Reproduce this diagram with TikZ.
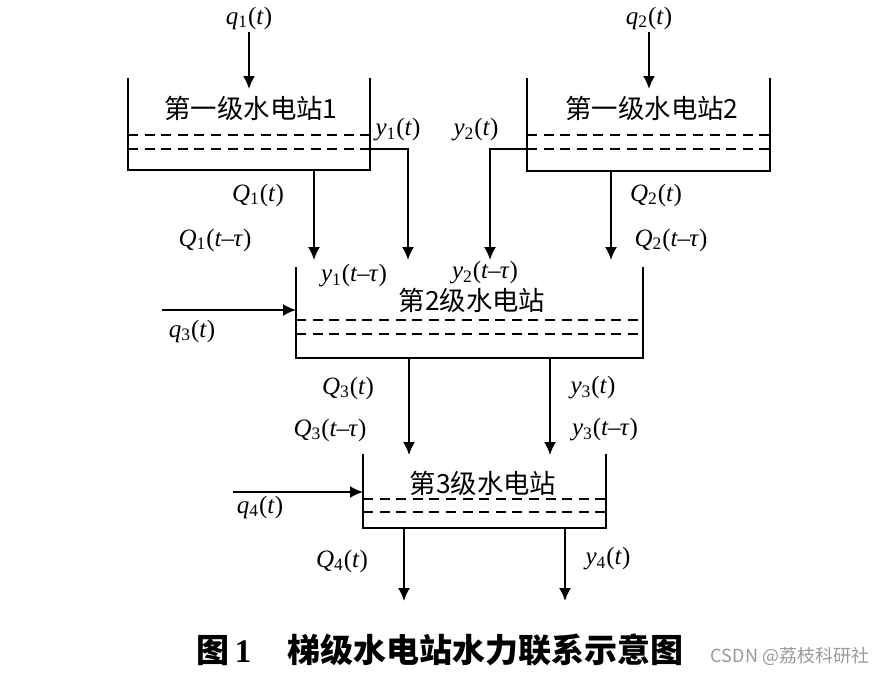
\documentclass[tikz,border=0pt]{standalone}
\usepackage{fontspec}
\setmainfont{Liberation Serif}
\newfontfamily\cjk{Noto Sans CJK SC}
\usetikzlibrary{arrows.meta}

\newcommand{\sigt}[2]{\textit{#1}\textsubscript{#2}(\textit{t})}
\newcommand{\sigd}[2]{\textit{#1}\textsubscript{#2}(\textit{t}\kern-0.3pt--\kern-0.3pt\textit{τ})}

\begin{document}
\begin{tikzpicture}[x=0.5pt, y=-0.5pt,
        wall/.style={line width=0.9pt},
        level/.style={line width=0.75pt, dash pattern=on 5pt off 3.3pt},
        flow/.style={line width=0.9pt, -{Latex[length=6.5pt, width=6pt]}},
        lbl/.style={font=\fontsize{12.5}{14}\selectfont, inner sep=1pt},
        stname/.style={font=\cjk\fontsize{13.2}{15}\selectfont, inner sep=1pt},
    ]
    \useasboundingbox (0,0) rectangle (892,676);

    % tanks
    \draw[wall] (128,78) |- (370,170) -- (370,78);
    \draw[level] (128,135) -- (370,135);
    \draw[level] (128,149) -- (370,149);
    \draw[wall] (527,78) |- (770,171) -- (770,78);
    \draw[level] (527,135) -- (770,135);
    \draw[level] (527,149) -- (770,149);
    \draw[wall] (296,267) |- (643,358) -- (643,267);
    \draw[level] (296,320) -- (643,320);
    \draw[level] (296,334) -- (643,334);
    \draw[wall] (363,454) |- (606,528) -- (606,454);
    \draw[level] (363,499) -- (606,499);
    \draw[level] (363,512) -- (606,512);

    % station names
    \node[stname] (st1) at (251,108) {第一级水电站1};
    \node[stname] (st2) at (652,108) {第一级水电站2};
    \node[stname] (st3) at (472,300) {第2级水电站};
    \node[stname] (st4) at (483,483) {第3级水电站};

    % labels
    \node[lbl] (q1)   at (249,18)  {\sigt{q}{1}};
    \node[lbl] (q2)   at (649,18)  {\sigt{q}{2}};
    \node[lbl] (y1)   at (398,130) {\sigt{y}{1}};
    \node[lbl] (y2)   at (476,130) {\sigt{y}{2}};
    \node[lbl] (Q1)   at (258,195) {\sigt{Q}{1}};
    \node[lbl] (Q1d)  at (215,240) {\sigd{Q}{1}};
    \node[lbl] (Q2)   at (656,195) {\sigt{Q}{2}};
    \node[lbl] (Q2d)  at (671,240) {\sigd{Q}{2}};
    \node[lbl] (y1d)  at (354,276) {\sigd{y}{1}};
    \node[lbl] (y2d)  at (485,273) {\sigd{y}{2}};
    \node[lbl] (q3)   at (192,331) {\sigt{q}{3}};
    \node[lbl] (Q3)   at (348,388) {\sigt{Q}{3}};
    \node[lbl] (Q3d)  at (330,430) {\sigd{Q}{3}};
    \node[lbl] (y3)   at (593,388) {\sigt{y}{3}};
    \node[lbl] (y3d)  at (605,430) {\sigd{y}{3}};
    \node[lbl] (q4)   at (260,507) {\sigt{q}{4}};
    \node[lbl] (Q4)   at (342,561) {\sigt{Q}{4}};
    \node[lbl] (y4)   at (608,559) {\sigt{y}{4}};

    % connector ends
    \coordinate (q1in)   at (249,89);
    \coordinate (q2in)   at (649,89);
    \coordinate (y1out)  at (370,149);
    \coordinate (y1bend) at (408,149);
    \coordinate (y1in)   at (408,260);
    \coordinate (y2out)  at (527,149);
    \coordinate (y2bend) at (490,149);
    \coordinate (y2in)   at (490,260);
    \coordinate (Q1out)  at (314,170);
    \coordinate (Q1in)   at (314,260);
    \coordinate (Q2out)  at (611,171);
    \coordinate (Q2in)   at (611,260);
    \coordinate (q3from) at (162,310);
    \coordinate (q3in)   at (296,310);
    \coordinate (Q3out)  at (409,358);
    \coordinate (Q3in)   at (409,455);
    \coordinate (y3out)  at (550,358);
    \coordinate (y3in)   at (550,455);
    \coordinate (q4from) at (233,492);
    \coordinate (q4in)   at (363,492);
    \coordinate (Q4out)  at (404,528);
    \coordinate (Q4end)  at (404,601);
    \coordinate (y4out)  at (565,528);
    \coordinate (y4end)  at (565,601);

    % flows
    \draw[flow] (q1) -- (q1in);
    \draw[flow] (q2) -- (q2in);
    \draw[flow] (Q1out) -- (Q1in);
    \draw[flow] (y1out) -- (y1bend) -- (y1in);
    \draw[flow] (y2out) -- (y2bend) -- (y2in);
    \draw[flow] (Q2out) -- (Q2in);
    \draw[flow] (q3from) -- (q3in);
    \draw[flow] (Q3out) -- (Q3in);
    \draw[flow] (y3out) -- (y3in);
    \draw[flow] (q4from) -- (q4in);
    \draw[flow] (Q4out) -- (Q4end);
    \draw[flow] (y4out) -- (y4end);

    % caption
    \node[font=\cjk\bfseries\fontsize{16.5}{18}\selectfont] (cap) at (440,650)
        {图\,{\rmfamily 1}\hspace{1.1em}梯级水电站水力联系示意图};
    \node[font=\cjk\fontsize{9}{10}\selectfont, text=black!40] (mark) at (790,656)
        {CSDN @荔枝科研社};
\end{tikzpicture}
\end{document}
